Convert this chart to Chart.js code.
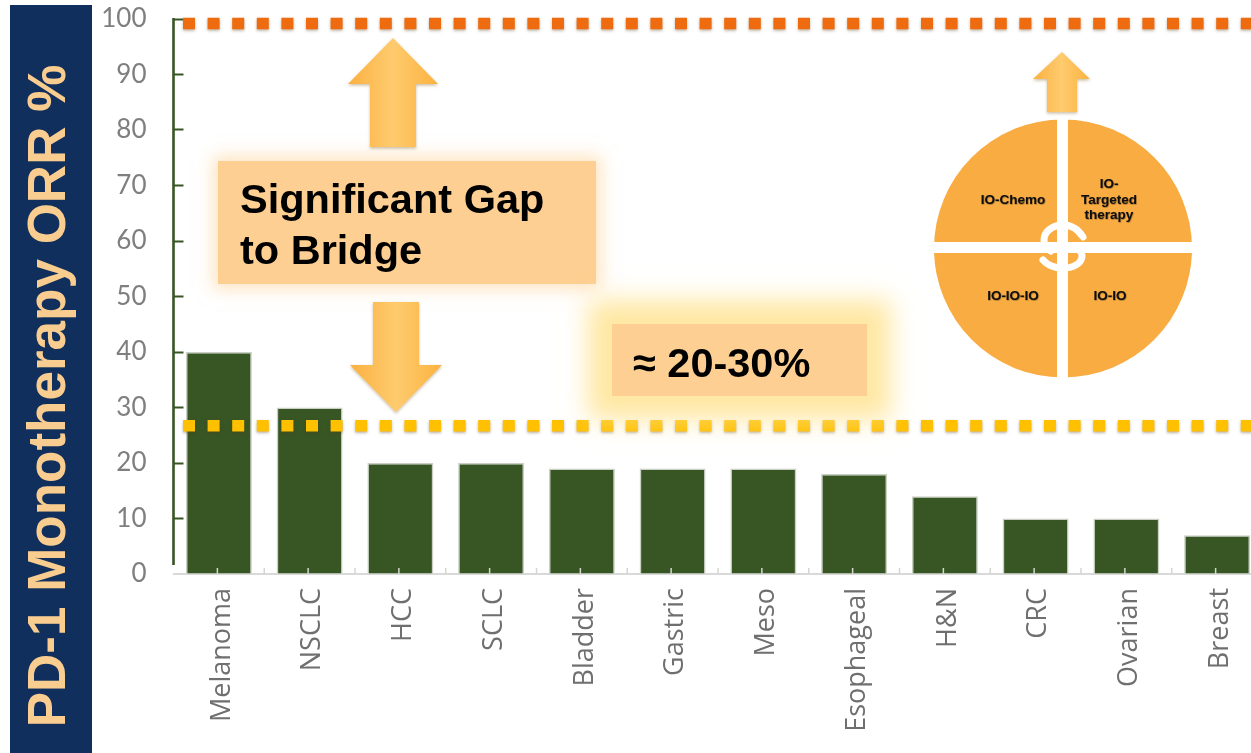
<!DOCTYPE html>
<html><head><meta charset="utf-8">
<script src="https://cdn.jsdelivr.net/npm/chart.js@4"></script>
<style>
html,body{margin:0;padding:0;width:1251px;height:753px;overflow:hidden;background:#fff}
#wrap{position:absolute;left:0;top:0;width:1251px;height:753px;overflow:hidden}
canvas{position:absolute;left:0;top:0}
#panel{position:absolute;left:10px;top:5px;width:82px;height:748px;background:#112f5c}
#title{position:absolute;left:46px;top:396px;transform:translate(-50%,-50%) rotate(-90deg);white-space:nowrap;font:bold 53px "Liberation Sans",Arial,sans-serif;color:#f9cd8f;line-height:1}
.box{position:absolute;background:#fdcf92;color:#000;font:bold 41.5px "Liberation Sans",Arial,sans-serif}
#gap{left:218px;top:161px;width:378px;height:123px;box-shadow:0 0 16px 5px rgba(253,205,140,.55)}
#gap span{position:absolute;left:22px;top:12px;line-height:51px;white-space:nowrap}
#pct{left:612px;top:324px;width:255px;height:72px;box-shadow:0 0 24px 24px rgba(255,226,140,.8)}
#pct span{position:absolute;left:21px;top:17px;line-height:44px;white-space:nowrap}
svg{position:absolute;left:0;top:0}
</style></head><body>
<div id="wrap">
<canvas id="c" width="1263" height="753" style="width:1263px;height:753px"></canvas>
<div id="panel"></div>
<div id="title">PD-1 Monotherapy ORR %</div>
<div class="box" id="gap"><span>Significant Gap<br>to Bridge</span></div>
<div class="box" id="pct"><span>≈ 20-30%</span></div>
<svg width="1251" height="753" viewBox="0 0 1251 753">
<defs>
<linearGradient id="ag" x1="0" x2="1" y1="0" y2="0"><stop offset="0" stop-color="#fbb040"/><stop offset=".5" stop-color="#fecb6e"/><stop offset="1" stop-color="#fbb23f"/></linearGradient>
<filter id="as" x="-20%" y="-20%" width="140%" height="140%"><feDropShadow dx="0" dy="1.5" stdDeviation="1.5" flood-color="#8a6a30" flood-opacity=".45"/></filter>
<filter id="ts" x="-10%" y="-10%" width="120%" height="120%"><feDropShadow dx="0.5" dy="0.5" stdDeviation="0.5" flood-color="#000" flood-opacity=".5"/></filter>
</defs>
<g fill="url(#ag)" filter="url(#as)">
<path d="M393 38L438 84H416V147H370V84H348Z"/>
<path d="M373 302H419V365H442L396 412L350 365H373Z"/>
<path d="M1062 52L1090 79H1077V112H1047V79H1033Z"/>
</g>
<circle cx="1063" cy="248.5" r="129" fill="#f9ac42"/>
<rect x="1057" y="116" width="11" height="265" fill="#fff"/>
<rect x="930" y="242" width="266" height="11" fill="#fff"/>
<g fill="none" stroke="#fff" stroke-width="7" stroke-linecap="round">
<path d="M1083 237C1078 229 1071 225 1063 225C1052 225 1044 232 1044 240C1044 245 1047 249 1051 251"/>
<path d="M1043 260C1048 266 1055 268 1063 268C1074 268 1082 263 1082 256C1082 252 1079 249 1075 247"/>
</g>
<g font-family="Liberation Sans,Arial,sans-serif" font-size="13.5" font-weight="bold" text-anchor="middle" fill="#111" filter="url(#ts)">
<text x="1013" y="204">IO-Chemo</text>
<text x="1109" y="188">IO-</text>
<text x="1109" y="204">Targeted</text>
<text x="1109" y="219">therapy</text>
<text x="1013" y="300">IO-IO-IO</text>
<text x="1110" y="300">IO-IO</text>
</g>
</svg>
</div>
<script>
const categories = ["Melanoma","NSCLC","HCC","SCLC","Bladder","Gastric","Meso","Esophageal","H&N","CRC","Ovarian","Breast"];
const orrValues = [40,30,20,20,19,19,19,18,14,10,10,7];
const yTicks = [0,10,20,30,40,50,60,70,80,90,100];
const upperLevel = 99.2;
const lowerLevel = 26.7;

const GREEN = "#375623";
const dashLine = (level,color) => ({
  type:"line", xAxisID:"x2", yAxisID:"y", order:1, clip:false,
  data:[{x:0,y:level},{x:1,y:level}],
  borderColor:color, borderWidth:11.5, borderDash:[12,12.6], borderDashOffset:15.1,
  pointRadius:0, tension:0, fill:false
});
const decor = {
  id:"decor",
  beforeDatasetDraw(chart,args){
    if(chart.data.datasets[args.index].type==="line"){
      const c=chart.ctx; c.save(); c.shadowColor="rgba(90,60,20,.4)"; c.shadowBlur=3; c.shadowOffsetY=1.5;
    }
  },
  afterDatasetDraw(chart,args){
    if(chart.data.datasets[args.index].type==="line") chart.ctx.restore();
  },
  afterDatasetsDraw(chart){
    const c=chart.ctx,x=chart.scales.x,y=chart.scales.y,b=y.getPixelForValue(0);
    c.save();
    c.strokeStyle=GREEN;c.lineWidth=2.6;c.beginPath();
    c.moveTo(x.left,y.getPixelForValue(100)-1);c.lineTo(x.left,y.getPixelForValue(1.6));c.stroke();
    c.strokeStyle="#d4d7d0";c.lineWidth=1.5;
    categories.forEach((_,i)=>{
      const px=x.getPixelForValue(i),half=(x.getPixelForValue(1)-x.getPixelForValue(0))/2;
      [px-1.5,px+half].forEach(p=>{c.beginPath();c.moveTo(p,b);c.lineTo(p,b-6);c.stroke();});
    });
    c.restore();
  }
};
new Chart(document.getElementById("c"),{
  type:"bar",
  data:{labels:categories,datasets:[
    {label:"ORR",order:2,grouped:false,data:orrValues,xAxisID:"x",yAxisID:"y",backgroundColor:GREEN,borderColor:"#c9d0c3",borderWidth:1.5,barPercentage:1,categoryPercentage:.727},
    dashLine(upperLevel,"#ee6c0f"),
    dashLine(lowerLevel,"#ffc000")
  ]},
  plugins:[decor],
  options:{
    responsive:false,animation:false,
    layout:{padding:{left:0,top:19,right:0.5,bottom:0}},
    plugins:{legend:{display:false},tooltip:{enabled:false}},
    scales:{
      x:{type:"category",offset:true,grid:{display:false},
        border:{display:true,color:"#d9d9d9",width:2},
        ticks:{autoSkip:false,minRotation:90,maxRotation:90,padding:6,labelOffset:3,color:"#6f6f6f",font:{family:"Open Sans",size:27}},
        afterFit(s){s.height=179;}},
      x2:{type:"linear",display:false,offset:false,min:0,max:1,grid:{offset:false}},
      y:{min:0,max:100,afterBuildTicks(s){s.ticks=yTicks.map(v=>({value:v}));},
        border:{display:false},
        grid:{drawOnChartArea:false,drawTicks:true,tickLength:-10,tickWidth:2,
          tickColor:ctx=>ctx.tick&&ctx.tick.value===0?"transparent":GREEN},
        ticks:{padding:37,color:"#7f7f7f",font:{family:"Lato",size:26}},
        afterFit(s){s.width=173.5;s.paddingTop=0;s.paddingBottom=0;}}
    }
  }
});
</script>
</body></html>
